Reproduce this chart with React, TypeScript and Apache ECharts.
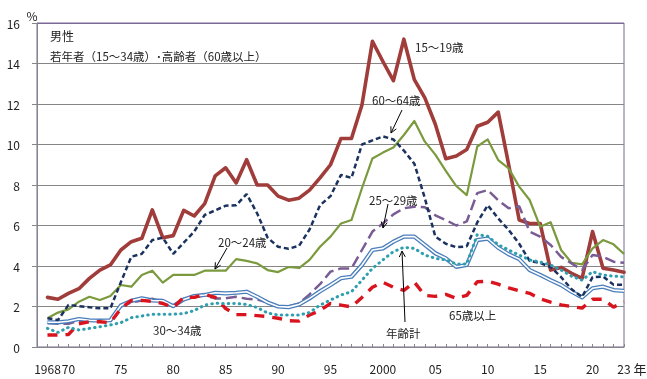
import React, { useEffect, useRef } from "react";
import * as echarts from "echarts";

const years: number[] = [];
for (let y = 1968; y <= 2023; y++) years.push(y);

const tickYears = [1968, 1970, 1975, 1980, 1985, 1990, 1995, 2000, 2005, 2010, 2015, 2020, 2023];
const tickLabels = ["1968", "70", "75", "80", "85", "90", "95", "2000", "05", "10", "15", "20", "23"];

const age15to19 = [
  2.45, 2.36, 2.65, 2.88, 3.39, 3.8, 4.05, 4.79, 5.2, 5.37,
  6.77, 5.4, 5.5, 6.75, 6.47, 7.08, 8.45, 8.85, 8.1, 9.25,
  8.0, 8.0, 7.45, 7.25, 7.35, 7.75, 8.35, 9.0, 10.3, 10.3,
  11.95, 15.1, 14.1, 13.15, 15.2, 13.2, 12.3, 11.0, 9.3, 9.43,
  9.75, 10.9, 11.1, 11.6, 9.0, 6.27, 6.1, 6.1, 3.8, 3.93,
  3.64, 3.39, 5.7, 3.89, 3.8, 3.69,
];
const age60to64 = [
  1.42, 1.33, 2.07, 2.02, 1.96, 1.91, 1.91, 3.2, 4.46, 4.6,
  5.28, 5.4, 4.6, 5.15, 5.7, 6.52, 6.75, 6.98, 7.0, 7.55,
  6.6, 5.4, 4.95, 4.85, 5.0, 5.8, 7.0, 7.45, 8.5, 8.35,
  10.0, 10.2, 10.4, 10.25, 9.7, 9.05, 7.35, 5.45, 5.1, 4.93,
  4.97, 6.15, 7.0, 6.35, 5.78, 5.1, 4.25, 4.15, 3.95, 3.45,
  2.85, 2.47, 3.45, 3.48, 3.08, 3.08,
];
const age20to24 = [
  1.42, 1.7, 1.86, 2.24, 2.48, 2.32, 2.52, 3.06, 2.98, 3.56,
  3.77, 3.18, 3.56, 3.56, 3.56, 3.77, 3.77, 3.77, 4.34, 4.25,
  4.13, 3.8, 3.7, 3.95, 3.9, 4.3, 4.95, 5.45, 6.1, 6.27,
  7.84, 9.31, 9.6, 9.85, 10.47, 11.16, 10.14, 9.5, 8.7, 7.95,
  7.5, 9.9, 10.25, 9.23, 8.82, 7.92, 7.26, 5.94, 6.16, 4.79,
  4.16, 4.08, 4.87, 5.28, 5.07, 4.59,
];
const age25to29 = [
  1.2, 1.15, 1.15, 1.3, 1.3, 1.3, 1.3, 2.0, 2.2, 2.3,
  2.38, 2.22, 1.99, 2.38, 2.45, 2.55, 2.4, 2.4, 2.48, 2.38,
  2.35, 2.2, 2.0, 2.0, 2.15, 2.6, 3.1, 3.72, 3.88, 3.88,
  4.79, 5.7, 6.1, 6.55, 6.85, 6.93, 6.9, 6.5, 6.27, 6.0,
  6.2, 7.6, 7.75, 7.25, 6.85, 6.95, 5.7, 5.45, 5.04, 4.45,
  4.13, 3.8, 4.54, 4.46, 4.21, 4.16,
];
const age30to34 = [
  1.22, 1.22, 1.27, 1.38, 1.32, 1.3, 1.32, 2.05, 2.28, 2.4,
  2.3, 2.28, 2.02, 2.35, 2.52, 2.57, 2.68, 2.65, 2.68, 2.73,
  2.48, 2.2, 2.0, 1.97, 2.1, 2.4, 2.75, 3.06, 3.4, 3.47,
  4.05, 4.79, 4.87, 5.2, 5.45, 5.45, 5.04, 4.63, 4.38, 3.96,
  4.05, 5.28, 5.35, 4.9, 4.58, 4.34, 3.8, 3.56, 3.3, 3.06,
  2.73, 2.45, 2.9, 2.98, 2.81, 2.77,
];
const allAges = [
  0.92, 0.72, 0.97, 0.84, 0.92, 1.0, 1.09, 1.2, 1.45, 1.53,
  1.62, 1.62, 1.62, 1.65, 1.8, 2.07, 2.16, 2.14, 2.15, 2.1,
  1.95, 1.68, 1.58, 1.58, 1.58, 1.7, 2.07, 2.32, 2.57, 2.73,
  3.3, 3.88, 4.3, 4.71, 4.92, 4.87, 4.54, 4.38, 4.3, 4.1,
  4.1, 5.55, 5.47, 5.05, 4.79, 4.54, 4.3, 4.2, 4.05, 3.8,
  3.5, 3.3, 3.72, 3.55, 3.5, 3.46,
];
const age65plus = [
  0.59, 0.59, 0.62, 1.15, 1.25, 1.25, 1.2, 1.9, 2.3, 2.3,
  2.25, 2.15, 1.95, 2.45, 2.45, 2.6, 2.45, 1.9, 1.6, 1.6,
  1.55, 1.5, 1.42, 1.3, 1.28, 1.58, 1.8, 2.15, 2.07, 1.98,
  2.45, 2.95, 3.2, 2.95, 2.8, 3.2, 2.55, 2.5, 2.6, 2.4,
  2.55, 3.22, 3.25, 3.1, 2.92, 2.77, 2.65, 2.38, 2.22, 2.08,
  2.0, 1.92, 2.36, 2.36, 1.97, 2.23,
];

const FONT = "'Noto Sans CJK JP', 'Noto Sans', sans-serif";
const TXT = "#222";

const pairs = (vals: number[]) => years.map((y, i) => [y, vals[i]]);

function arrow(x1: number, y1: number, x2: number, y2: number) {
  const dx = x2 - x1, dy = y2 - y1;
  const L = Math.hypot(dx, dy);
  const ux = dx / L, uy = dy / L;
  const hl = 6, hw = 3;
  const bx = x2 - ux * hl, by = y2 - uy * hl;
  return [
    { type: "line", shape: { x1, y1, x2, y2 }, style: { stroke: "#000", lineWidth: 1 }, z: 100 },
    {
      type: "polyline",
      shape: { points: [[bx - uy * hw, by + ux * hw], [x2, y2], [bx + uy * hw, by - ux * hw]] },
      style: { stroke: "#000", lineWidth: 1, fill: null },
      z: 100,
    },
  ];
}

function label(text: string, x: number, y: number, size = 12, align = "left") {
  return {
    type: "text",
    x,
    y,
    z: 100,
    style: { text, fill: TXT, font: `${size}px ${FONT}`, textAlign: align, textVerticalAlign: "middle" },
  };
}

export default function App() {
  const ref = useRef<HTMLDivElement>(null);
  useEffect(() => {
    if (!ref.current) return;
    const chart = echarts.init(ref.current, null, { renderer: "svg" });
    const line = (name: string, data: number[], color: string, width: number, type: any, extra: any = {}) => ({
      name,
      type: "line",
      data: pairs(data),
      symbol: "none",
      lineStyle: { color, width, type, ...extra },
      z: extra.z ?? 2,
    });
    const option: any = {
      animation: false,
      grid: {
        left: 37,
        right: 23,
        top: 23,
        bottom: 32,
        show: true,
        borderColor: "#7b6896",
        borderWidth: 1,
      },
      xAxis: {
        type: "value",
        min: 1967,
        max: 2023,
        interval: 1,
        axisLine: { show: true, lineStyle: { color: "#868686", width: 1 } },
        axisTick: { show: true, inside: true, length: 3, lineStyle: { color: "#868686" } },
        splitLine: { show: false },
        axisLabel: {
          margin: 15,
          fontSize: 12,
          fontFamily: FONT,
          color: TXT,
          showMinLabel: true,
          showMaxLabel: true,
          formatter: (v: number) => {
            const i = tickYears.indexOf(Math.round(v));
            return i >= 0 ? tickLabels[i] : "";
          },
        },
      },
      yAxis: {
        type: "value",
        min: 0,
        max: 16,
        interval: 2,
        axisLine: { show: true, lineStyle: { color: "#868686", width: 1 } },
        axisTick: { show: true, length: 5, lineStyle: { color: "#868686" } },
        splitLine: {
          show: true,
          lineStyle: {
            color: ["#868686", "#868686", "#868686", "#868686", "#868686", "#868686", "#868686", "#868686", "#7b6896"],
            width: 1,
          },
        },
        axisLabel: { margin: 17, fontSize: 12, fontFamily: FONT, color: TXT },
      },
      series: [
        line("15〜19歳", age15to19, "#a03c3a", 3.6, "solid", { cap: "round", join: "round" }),
        line("20〜24歳", age20to24, "#7b9a3e", 2.2, "solid", { join: "round" }),
        line("25〜29歳", age25to29, "#7a5c94", 2.5, [11, 5]),
        line("30〜34歳", age30to34, "#4a7ebb", 4.2, "solid", { join: "round" }),
        line("30〜34歳 ", age30to34, "#ffffff", 1.6, "solid", { join: "round", z: 3 }),
        line("60〜64歳", age60to64, "#1b325f", 2.5, [5, 3], { z: 4 }),
        line("65歳以上", age65plus, "#d9141e", 3.4, [10, 8], { z: 4 }),
        line("年齢計", allAges, "#2f9fb0", 3, [0.5, 5], { cap: "round", z: 5 }),
      ],
      graphic: [
        label("%", 32, 15, 12, "center"),
        label("年", 640, 368, 13, "center"),
        label("男性", 50, 35, 12),
        label("若年者（15〜34歳）･高齢者（60歳以上）", 50, 56, 11.5),
        label("15〜19歳", 415, 47, 11.5),
        label("60〜64歳", 372, 100, 11.5),
        label("20〜24歳", 218, 242, 11.5),
        label("25〜29歳", 369, 200, 11.5),
        label("30〜34歳", 153, 330, 11.5),
        label("年齢計", 386, 333, 11.5),
        label("65歳以上", 449, 315, 11.5),
        ...arrow(402, 110, 391, 133),
        ...arrow(227, 248, 215, 269),
        ...arrow(388, 204, 383, 228),
        ...arrow(405, 322, 402, 251),
      ],
    };
    chart.setOption(option);
    return () => chart.dispose();
  }, []);
  return <div ref={ref} style={{ position: "fixed", left: 0, top: 0, width: 647, height: 379 }} />;
}
